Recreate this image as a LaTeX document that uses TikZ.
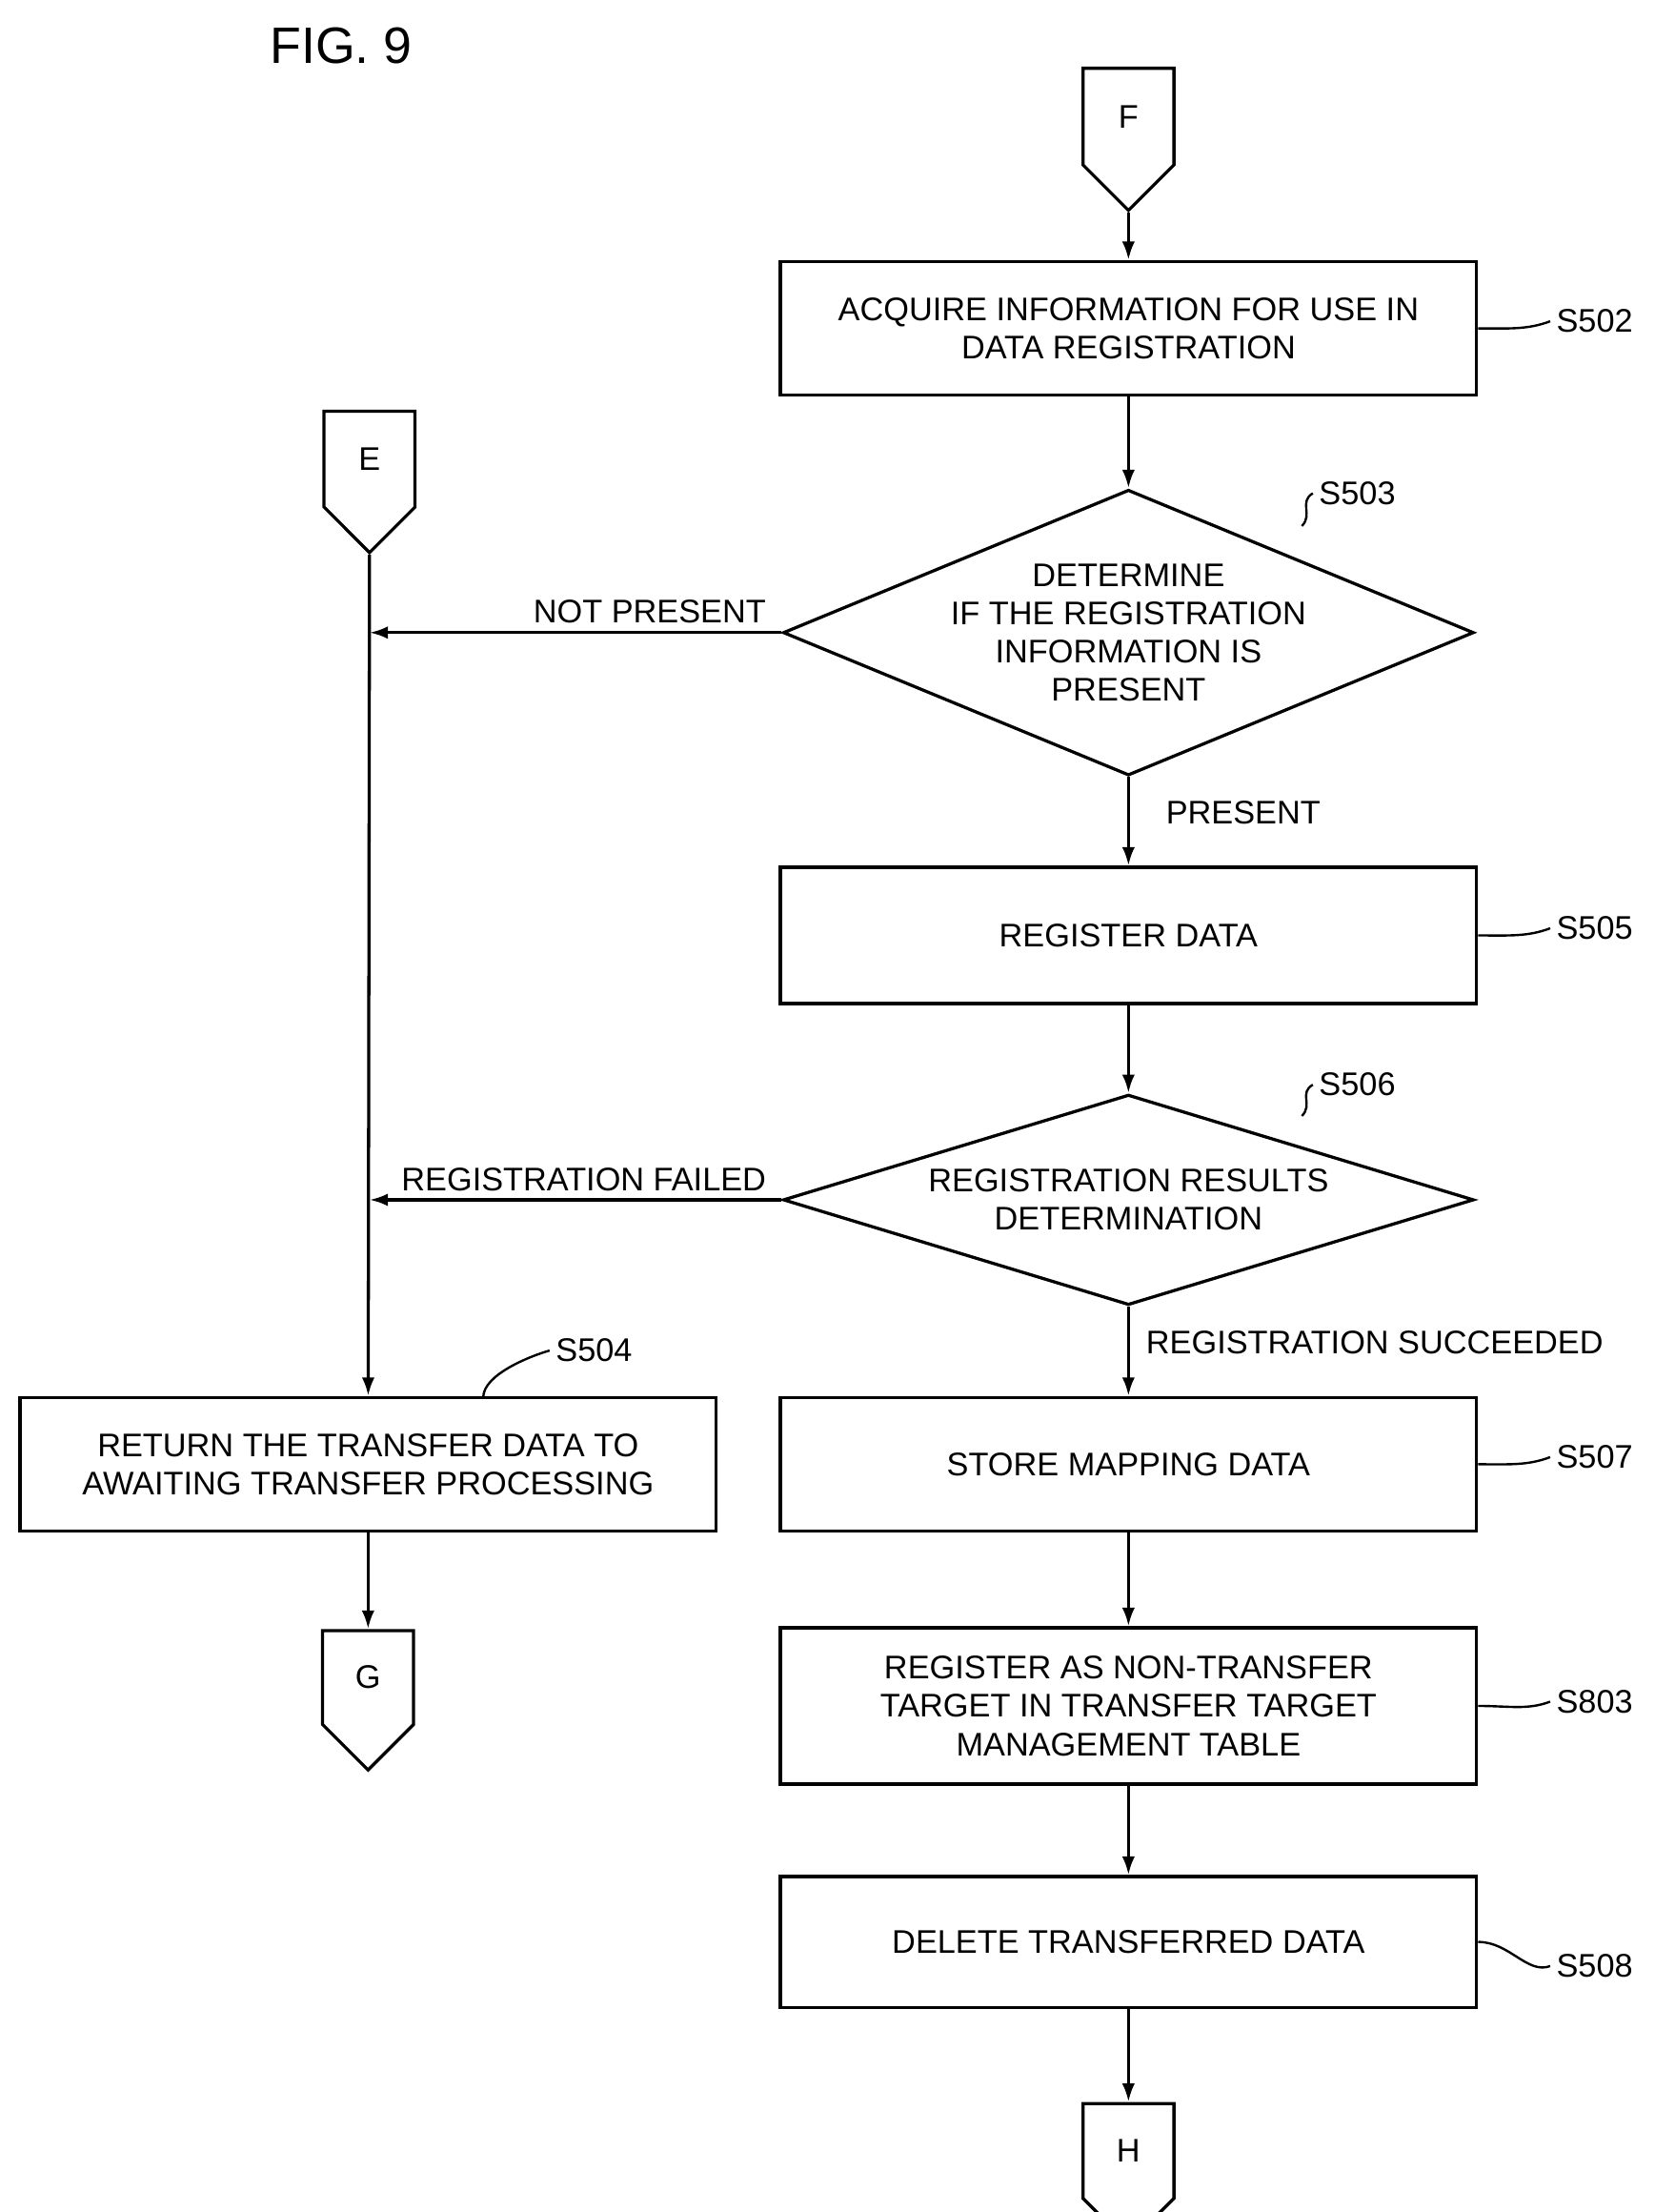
\documentclass[tikz,border=0pt]{standalone}
\usepackage{fontspec}
\setmainfont{Liberation Sans}
\usetikzlibrary{shapes.geometric,shapes.symbols,arrows.meta}
\begin{document}
\begin{tikzpicture}[x=1pt,y=-1pt,line width=2.2pt,
    font=\fontsize{23}{27}\selectfont,
    box/.style={draw,minimum width=490pt,minimum height=94pt,align=center,inner sep=0pt},
    dec/.style={draw,diamond,aspect=2.42,minimum width=486pt,minimum height=201pt,inner sep=0pt,align=center},
    conn/.style={draw,signal,signal to=south,signal pointer angle=90,minimum width=64pt,minimum height=75pt,inner sep=0pt},
    flow/.style={-{Latex[length=13pt,width=9pt]}},
    lead/.style={line width=1.6pt}]
    \useasboundingbox (0,0) rectangle (1164,1556);
    \node[font=\fontsize{36}{40}\selectfont] (fig) at (240,32) {FIG. 9};

    % right column
    \node[conn] (F) at (794,82) {F};
    \node[box] (s502) at (794,231) {ACQUIRE INFORMATION FOR USE IN\\DATA REGISTRATION};
    \node[dec] (s503) at (794,445) {DETERMINE\\IF THE REGISTRATION\\INFORMATION IS\\PRESENT};
    \node[box,minimum height=96pt] (s505) at (794,658) {REGISTER DATA};
    \node[dec,minimum height=148pt,aspect=3.3] (s506) at (794,844) {REGISTRATION RESULTS\\DETERMINATION};
    \node[box] (s507) at (794,1030) {STORE MAPPING DATA};
    \node[box,minimum height=110pt] (s803) at (794,1200) {REGISTER AS NON-TRANSFER\\TARGET IN TRANSFER TARGET\\MANAGEMENT TABLE};
    \node[box,minimum height=92pt] (s508) at (794,1366) {DELETE TRANSFERRED DATA};
    \node[conn] (H) at (794,1513) {H};

    % left column
    \node[conn] (E) at (260,323) {E};
    \node[box] (s504) at (259,1030) {RETURN THE TRANSFER DATA TO\\AWAITING TRANSFER PROCESSING};
    \node[conn] (G) at (259,1180) {G};
    \coordinate (j1) at (260,445);
    \coordinate (j2) at (260,844);

    % step labels
    \node (l502) at (1122,226) {S502};
    \node (l503) at (955,347) {S503};
    \node (l505) at (1122,653) {S505};
    \node (l506) at (955,763) {S506};
    \node (l504) at (418,950) {S504};
    \node (l507) at (1122,1025) {S507};
    \node (l803) at (1122,1197) {S803};
    \node (l508) at (1122,1383) {S508};
    \foreach \b/\l in {s502/l502,s505/l505,s507/l507,s803/l803,s508/l508}
        \draw[lead] (\b.east) .. controls +(22,0) and +(-16,6) .. (\l.west);
    \draw[lead] (916,370) .. controls +(8,-8) and +(-10,6) .. (l503.west);
    \draw[lead] (916,785) .. controls +(8,-8) and +(-10,6) .. (l506.west);
    \draw[lead] (340,983) .. controls +(0,-16) and +(-14,4) .. (l504.west);

    % connectors
    \draw[flow] (F.south) -- (s502);
    \draw[flow] (s502) -- (s503);
    \draw[flow] (s503.south) -- node[right=22pt,pos=0.4] {PRESENT} (s505);
    \draw[flow] (s505) -- (s506);
    \draw[flow] (s506.south) -- node[right=8pt,pos=0.4] {REGISTRATION SUCCEEDED} (s507);
    \draw[flow] (s507) -- (s803);
    \draw[flow] (s803) -- (s508);
    \draw[flow] (s508) -- (H.north);
    \draw[flow] (s503.west) -- node[above=2pt,pos=0.32] {NOT PRESENT} (j1);
    \draw[flow] (s506.west) -- node[above=2pt,pos=0.48] {REGISTRATION FAILED} (j2);
    \draw[flow] (E.south) -- (s504);
    \draw[flow] (s504) -- (G.north);
\end{tikzpicture}
\end{document}
